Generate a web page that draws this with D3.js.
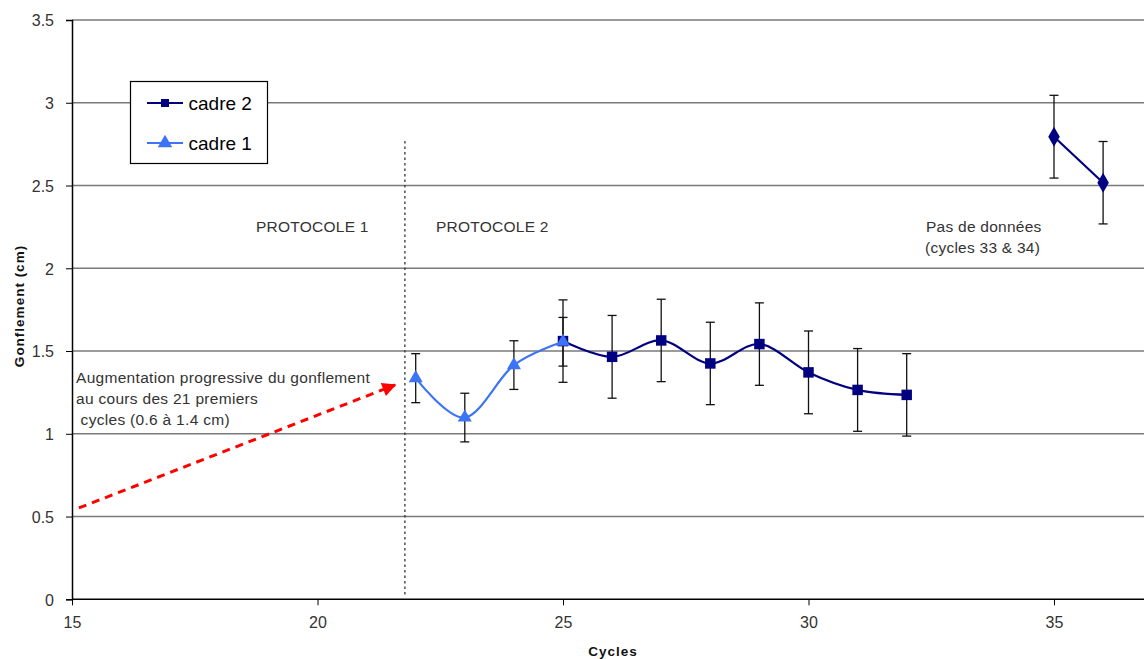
<!DOCTYPE html>
<html><head><meta charset="utf-8">
<script src="https://cdn.jsdelivr.net/npm/d3@7"></script>
<style>
html,body{margin:0;padding:0;background:#fff;}
svg{display:block;font-family:Arial,"Liberation Sans",sans-serif;}
</style></head>
<body>
<svg id="chart" width="1144" height="659"></svg>
<script>
// ---- data ----
const cadre1Cycles = [22, 23, 24, 25];
const cadre1Values = [1.336, 1.098, 1.415, 1.556];
const cadre1Errors = [0.148, 0.147, 0.147, 0.147];

const cadre2Cycles = [25, 26, 27, 28, 29, 30, 31, 32];
const cadre2Values = [1.56, 1.465, 1.564, 1.425, 1.542, 1.371, 1.265, 1.235];
const cadre2Errors = [0.249, 0.25, 0.249, 0.249, 0.249, 0.25, 0.25, 0.249];

const lateCycles = [35, 36];
const lateValues = [2.795, 2.517];
const lateErrors = [0.25, 0.249];

const xTicks = [15, 20, 25, 30, 35];
const yTicks = [0, 0.5, 1, 1.5, 2, 2.5, 3, 3.5];
const seriesNames = ["cadre 2", "cadre 1"];
const protocolBoundary = 21.78;

// ---- layout ----
const svg = d3.select("#chart");
const x = d3.scaleLinear().domain([15, 37]).range([72, 72 + 22 * 49.1]);
const y = d3.scaleLinear().domain([0, 3.5]).range([599.3, 20]);
const plotRight = 1144;

const navy = "#000080", blue = "#3d73f5", grid = "#7a7a7a", txt = "#333";

// gridlines
svg.append("g").selectAll("line").data(yTicks.filter(d => d > 0)).join("line")
  .attr("x1", x(15)).attr("x2", plotRight)
  .attr("y1", d => y(d)).attr("y2", d => y(d))
  .attr("stroke", grid).attr("stroke-width", 1.6);

// axes
const yAxis = svg.append("g").attr("transform", `translate(${x(15)},0)`)
  .call(d3.axisLeft(y).tickValues(yTicks).tickFormat(d3.format("")).tickSize(6).tickPadding(12));
const xAxis = svg.append("g").attr("transform", `translate(0,${y(0)})`)
  .call(d3.axisBottom(x).tickValues(xTicks).tickSize(6).tickPadding(12));
xAxis.select(".domain").attr("d", `M${x(15)},0H${plotRight}`);
[yAxis, xAxis].forEach(g => {
  g.select(".domain").attr("stroke", "#000").attr("stroke-width", 1.5);
  g.selectAll(".tick line").attr("stroke", "#000");
  g.selectAll(".tick text").attr("fill", txt).style("font-size", "16px")
    .style("font-family", "Arial, 'Liberation Sans', sans-serif");
});
yAxis.selectAll(".tick text").attr("dy", "0.36em");
xAxis.selectAll(".tick text").attr("dy", "0.7em");

// protocol boundary dotted line
svg.append("line")
  .attr("x1", x(protocolBoundary)).attr("x2", x(protocolBoundary))
  .attr("y1", 141).attr("y2", 596)
  .attr("stroke", "#333").attr("stroke-width", 1.3).attr("stroke-dasharray", "2.5,3");

// texts
const tstyle = sel => sel.attr("fill", txt).style("font-size", "15.5px").style("letter-spacing", "0.25px");
tstyle(svg.append("text").attr("x", 256).attr("y", 232).text("PROTOCOLE 1"));
tstyle(svg.append("text").attr("x", 436).attr("y", 232).text("PROTOCOLE 2"));
tstyle(svg.append("text").attr("x", 926).attr("y", 232).text("Pas de données"));
tstyle(svg.append("text").attr("x", 925).attr("y", 253).text("(cycles 33 & 34)"));
const ann = svg.append("text").attr("fill", txt).style("font-size", "15.5px").style("letter-spacing", "0.3px");
ann.append("tspan").attr("x", 76).attr("y", 383).text("Augmentation progressive du gonflement");
ann.append("tspan").attr("x", 76).attr("y", 404).text("au cours des 21 premiers");
ann.append("tspan").attr("x", 76).attr("y", 425).text("\u00a0cycles (0.6 à 1.4 cm)");

// red dashed arrow
svg.append("defs").append("marker").attr("id", "arr")
  .attr("viewBox", "0 0 10 10").attr("refX", 9).attr("refY", 5)
  .attr("markerWidth", 18).attr("markerHeight", 14).attr("markerUnits", "userSpaceOnUse")
  .attr("orient", "auto")
  .append("path").attr("d", "M0,0L10,5L0,10Z").attr("fill", "#ff0000");
svg.append("line")
  .attr("x1", x(15.14)).attr("y1", y(0.552))
  .attr("x2", x(21.58)).attr("y2", y(1.295))
  .attr("stroke", "#ff0000").attr("stroke-width", 3).attr("stroke-dasharray", "8,6")
  .attr("marker-end", "url(#arr)");

// series drawing helper
const curve = d3.curveCardinal.tension(0);
function drawSeries(cycles, values, errors, color, shape, size) {
  const pts = cycles.map((c, i) => ({c, v: values[i], e: errors[i]}));
  const g = svg.append("g");
  g.append("path").datum(pts)
    .attr("d", d3.line().x(d => x(d.c)).y(d => y(d.v)).curve(curve))
    .attr("fill", "none").attr("stroke", color).attr("stroke-width", 2.2);
  const eb = g.append("g").selectAll("g").data(pts).join("g").attr("stroke", "#111").attr("stroke-width", 1.3);
  eb.append("line").attr("x1", d => x(d.c)).attr("x2", d => x(d.c))
    .attr("y1", d => y(d.v + d.e)).attr("y2", d => y(d.v - d.e));
  eb.append("line").attr("x1", d => x(d.c) - 4.5).attr("x2", d => x(d.c) + 4.5)
    .attr("y1", d => y(d.v + d.e)).attr("y2", d => y(d.v + d.e));
  eb.append("line").attr("x1", d => x(d.c) - 4.5).attr("x2", d => x(d.c) + 4.5)
    .attr("y1", d => y(d.v - d.e)).attr("y2", d => y(d.v - d.e));
  g.append("g").selectAll("path").data(pts).join("path")
    .attr("transform", d => `translate(${x(d.c)},${y(d.v)})`)
    .attr("d", d3.symbol().type(shape).size(size)).attr("fill", color);
}
drawSeries(cadre2Cycles, cadre2Values, cadre2Errors, navy, d3.symbolSquare, 110);
drawSeries(lateCycles, lateValues, lateErrors, navy, d3.symbolDiamond, 115);
drawSeries(cadre1Cycles, cadre1Values, cadre1Errors, blue, d3.symbolTriangle, 85);

// legend
const lg = svg.append("g");
lg.append("rect").attr("x", 130.5).attr("y", 81.5).attr("width", 137).attr("height", 82)
  .attr("fill", "#fff").attr("stroke", "#000").attr("stroke-width", 1.2);
const legendItems = [
  {name: seriesNames[0], color: navy, shape: d3.symbolSquare, size: 64},
  {name: seriesNames[1], color: blue, shape: d3.symbolTriangle, size: 90}
];
legendItems.forEach((it, i) => {
  const cy = 103 + i * 40;
  lg.append("line").attr("x1", 147).attr("x2", 183).attr("y1", cy).attr("y2", cy)
    .attr("stroke", it.color).attr("stroke-width", 2);
  lg.append("path").attr("transform", `translate(165,${cy})`)
    .attr("d", d3.symbol().type(it.shape).size(it.size)).attr("fill", it.color);
  lg.append("text").attr("x", 188.5).attr("y", cy + 6.5).attr("fill", "#000")
    .style("font-size", "19px").text(it.name);
});

// axis titles
svg.append("text").attr("x", 613).attr("y", 656).attr("text-anchor", "middle")
  .style("font-size", "13.5px").style("font-weight", "bold").style("letter-spacing", "1px")
  .attr("fill", "#111").text("Cycles");
svg.append("text").attr("transform", "translate(24,306) rotate(-90)").attr("text-anchor", "middle")
  .style("font-size", "13.5px").style("font-weight", "bold").style("letter-spacing", "1px")
  .attr("fill", "#111").text("Gonflement (cm)");
</script>
</body></html>
